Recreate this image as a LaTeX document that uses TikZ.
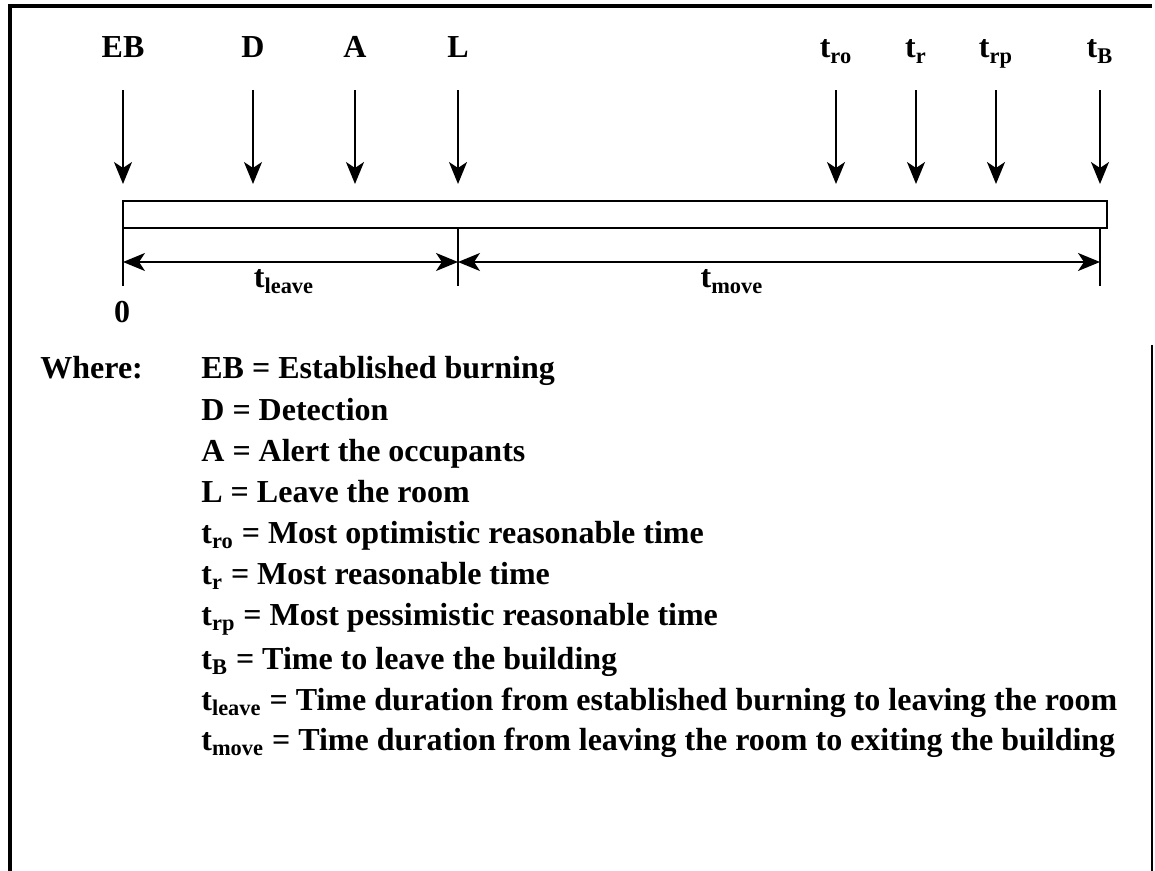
\documentclass[tikz,border=0pt]{standalone}
\usepackage{fontspec}
\setmainfont{Liberation Serif}
\usetikzlibrary{arrows.meta}
\begin{document}
\begin{tikzpicture}[x=0.5pt,y=-0.5pt,font=\bfseries\fontsize{16}{19}\selectfont,
  lbl/.style={inner sep=0pt,anchor=base},
  key/.style={inner sep=0pt,anchor=base west},
  down/.style={-{Stealth[length=11pt,width=9pt,inset=3pt]},line width=1pt,shorten <=16pt,shorten >=8pt},
  dim/.style={{Stealth[length=11pt,width=9pt,inset=3pt]}-{Stealth[length=11pt,width=9pt,inset=3pt]},line width=1pt}]
\useasboundingbox (0,0) rectangle (1155,871);
\draw[line width=2pt] (10,871) -- (10,6) -- (1152,6);
\draw[line width=0.6pt] (1152,345) -- (1152,871);

\node[draw,line width=1pt,inner sep=0pt,minimum width=492pt,minimum height=13.5pt,anchor=north west] (bar) at (122,200) {};

\node[lbl] (eb) at (123,58) {EB};
\node[lbl] (d) at (253,58) {D};
\node[lbl] (a) at (355,58) {A};
\node[lbl] (l) at (458,58) {L};
\node[lbl] (tro) at (836,58) {t\textsubscript{ro}};
\node[lbl] (tr) at (916,58) {t\textsubscript{r}};
\node[lbl] (trp) at (996,58) {t\textsubscript{rp}};
\node[lbl] (tb) at (1100,58) {t\textsubscript{B}};

\draw[down] (eb.base) -- (eb.base |- bar.north);
\draw[down] (d.base) -- (d.base |- bar.north);
\draw[down] (a.base) -- (a.base |- bar.north);
\draw[down] (l.base) -- (l.base |- bar.north);
\draw[down] (tro.base) -- (tro.base |- bar.north);
\draw[down] (tr.base) -- (tr.base |- bar.north);
\draw[down] (trp.base) -- (trp.base |- bar.north);
\draw[down] (tb.base) -- (tb.base |- bar.north);

\coordinate (z0) at (123,286);
\coordinate (zl) at (458,286);
\coordinate (zb) at (1100,286);
\draw[line width=1pt] (z0) -- (z0 |- bar.south);
\draw[line width=1pt] (zl) -- (zl |- bar.south);
\draw[line width=1pt] (zb) -- (zb |- bar.south);

\coordinate (d0) at (123,262);
\coordinate (dl) at (458,262);
\coordinate (db) at (1100,262);
\draw[dim] (d0) -- (dl);
\draw[dim] (dl) -- (db);

\node[lbl] (tleave) at (284,288) {t\textsubscript{leave}};
\node[lbl] (tmove) at (732,288) {t\textsubscript{move}};
\node[lbl] (zero) at (122,322) {0};

\node[key] (where) at (40,379) {Where:};
\node[key] (keb) at (201,379) {EB = Established burning};
\node[key] (kd) at (201,420) {D = Detection};
\node[key] (ka) at (201,461) {A = Alert the occupants};
\node[key] (kl) at (201,502) {L = Leave the room};
\node[key] (ktro) at (201,543) {t\textsubscript{ro} = Most optimistic reasonable time};
\node[key] (ktr) at (201,584) {t\textsubscript{r} = Most reasonable time};
\node[key] (ktrp) at (201,625) {t\textsubscript{rp} = Most pessimistic reasonable time};
\node[key] (ktb) at (201,669) {t\textsubscript{B} = Time to leave the building};
\node[key] (ktl) at (201,710) {t\textsubscript{leave} = Time duration from established burning to leaving the room};
\node[key] (ktm) at (201,750) {t\textsubscript{move} = Time duration from leaving the room to exiting the building};
\end{tikzpicture}
\end{document}
